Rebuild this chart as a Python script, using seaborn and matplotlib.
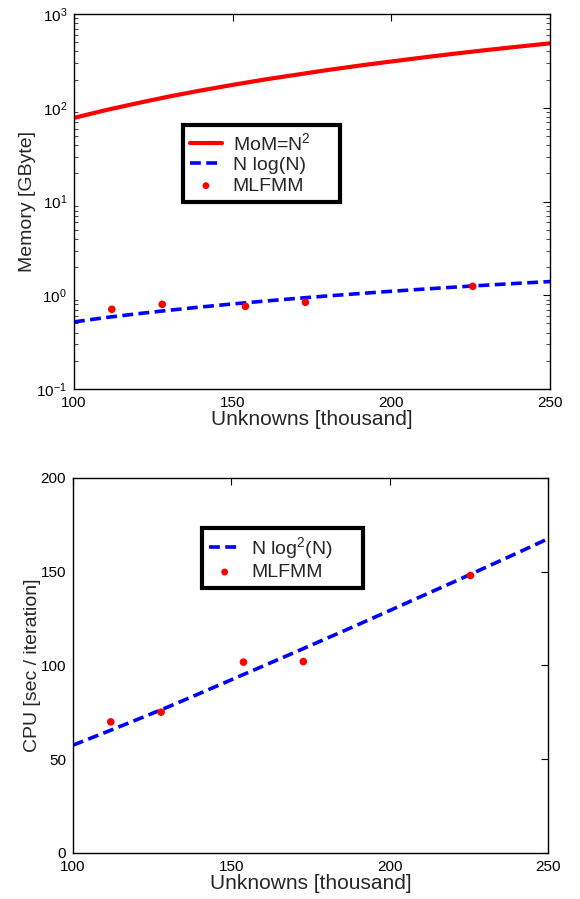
import matplotlib
matplotlib.use("Agg")
import matplotlib.pyplot as plt
import seaborn as sns
import numpy as np
import pandas as pd

# Problem sizes (thousands of unknowns) where the reference curves are sampled
n_curve = [100, 110, 120, 130, 140, 150, 160, 170, 180, 190, 200,
           210, 220, 230, 240, 250]

# Memory [GByte]
mem_mom = [78, 94.4, 112, 132, 153, 175.5, 200, 225, 253, 282, 312,
           344, 378, 413, 449, 487]                              # MoM ~ N^2
mem_nlogn = [0.52, 0.578, 0.635, 0.692, 0.750, 0.808, 0.866, 0.925,
             0.984, 1.043, 1.103, 1.162, 1.222, 1.282, 1.342, 1.40]  # N log(N)

# Measured MLFMM runs
n_meas = [111.9, 127.8, 154.0, 172.9, 225.6]
mem_mlfmm = [0.708, 0.80, 0.762, 0.84, 1.245]

# CPU [sec / iteration]
cpu_nlog2n = [57.5, 64.2, 71.0, 77.9, 85.1, 92.4, 99.7, 107.0, 114.4,
              121.8, 129.3, 136.9, 144.4, 152.1, 159.8, 167.6]   # N log^2(N)
n_meas_cpu = [111.9, 127.8, 153.8, 172.7, 225.5]
cpu_mlfmm = [69.9, 75.1, 101.8, 102.1, 148.0]

sns.set_style("white")
plt.rcParams["font.family"] = ["Liberation Sans", "DejaVu Sans"]
plt.rcParams["mathtext.fontset"] = "custom"
plt.rcParams["mathtext.rm"] = "Liberation Sans"
plt.rcParams["mathtext.it"] = "Liberation Sans:italic"
plt.rcParams["mathtext.bf"] = "Liberation Sans:bold"
plt.rcParams["axes.unicode_minus"] = False

fig = plt.figure(figsize=(5.8, 8.99), dpi=100)
ax1 = fig.add_axes([0.1276, 0.5673, 0.821, 0.4171])
ax2 = fig.add_axes([0.126, 0.0512, 0.819, 0.4171])

dash = (0, (3, 1.5))
pad = "     "  # extra room on the right inside the legend frame

# ---- Memory panel ----
sns.lineplot(x=n_curve, y=mem_mom, ax=ax1, color="red", linewidth=3.0,
             label="MoM=N$^\\mathregular{2}$" + pad)
sns.lineplot(x=n_curve, y=mem_nlogn, ax=ax1, color="blue", linewidth=2.6,
             linestyle=dash, label="N log(N)")
sns.scatterplot(x=n_meas, y=mem_mlfmm, ax=ax1, color="red", s=30,
                edgecolor="none", label="MLFMM", zorder=5)
ax1.set_yscale("log")
ax1.set_ylim(0.1, 1000)
ax1.set_xlim(100, 250)
ax1.set_xticks([100, 150, 200, 250])
ax1.set_ylabel("Memory [GByte]", fontsize=14, labelpad=0)
ax1.set_xlabel("Unknowns [thousand]", fontsize=15, labelpad=0)

# ---- CPU panel ----
sns.lineplot(x=n_curve, y=cpu_nlog2n, ax=ax2, color="blue", linewidth=2.6,
             linestyle=dash, label="N log$^\\mathregular{2}$(N)" + pad)
sns.scatterplot(x=n_meas_cpu, y=cpu_mlfmm, ax=ax2, color="red", s=30,
                edgecolor="none", label="MLFMM", zorder=5)
ax2.set_ylim(0, 200)
ax2.set_xlim(100, 250)
ax2.set_xticks([100, 150, 200, 250])
ax2.set_yticks([0, 50, 100, 150, 200])
ax2.set_ylabel("CPU [sec / iteration]", fontsize=14, labelpad=0)
ax2.set_xlabel("Unknowns [thousand]", fontsize=15, labelpad=0)

for ax in (ax1, ax2):
    for sp in ax.spines.values():
        sp.set_visible(True)
        sp.set_color("black")
        sp.set_linewidth(1.0)
    ax.tick_params(which="major", direction="in", length=5, width=0.8,
                   top=True, right=True, labelsize=11, pad=5, colors="black")
    ax.tick_params(which="minor", direction="in", length=3, width=0.6,
                   top=False, right=True, left=True)

ax1.tick_params(axis="x", which="minor", bottom=False, top=False)

leg_kw = dict(loc="upper left", borderaxespad=0, fancybox=False,
              framealpha=1, edgecolor="black", fontsize=14,
              handlelength=1.65, handletextpad=0.55, labelspacing=0.15,
              borderpad=0.35, markerscale=0.9)
leg1 = ax1.legend(bbox_to_anchor=(0.229, 0.704), **leg_kw)
leg1.get_frame().set_linewidth(3)

leg2 = ax2.legend(bbox_to_anchor=(0.271, 0.867), **leg_kw)
leg2.get_frame().set_linewidth(3)

fig.savefig("out.png", dpi=100)
